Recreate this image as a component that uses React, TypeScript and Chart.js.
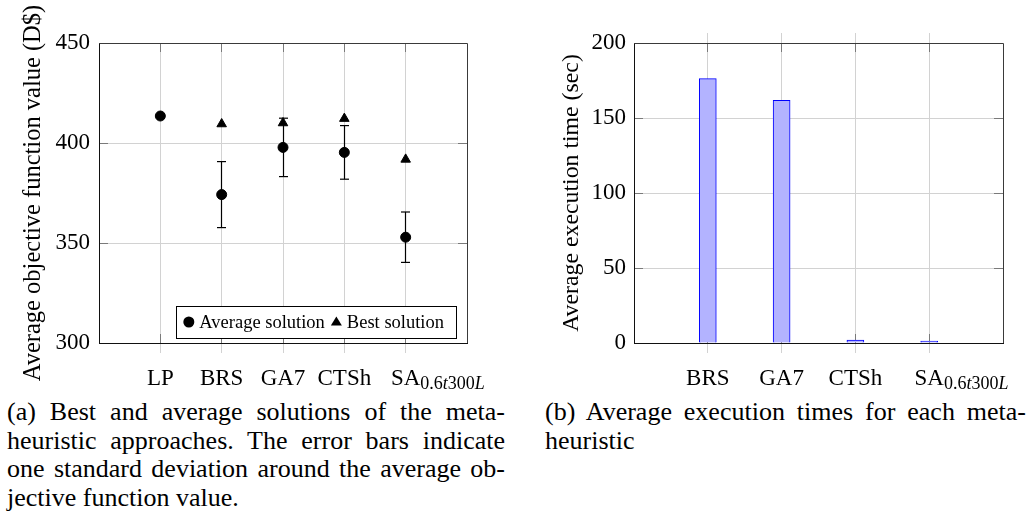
import React, { useEffect, useRef } from 'react';
import { Chart, registerables } from 'chart.js';

Chart.register(...registerables);

// ---------- data ----------
const methodsA = ['LP', 'BRS', 'GA7', 'CTSh', 'SA_0.6t300L'];
const avgSolution = [413.5, 374.2, 397.8, 395.3, 352.9];
const stdSolution = [0, 16.5, 14.6, 13.4, 12.6];
const bestSolution: (number | null)[] = [null, 409.5, 410.0, 412.2, 391.8];
const yTicksA = [300, 350, 400, 450];

const methodsB = ['BRS', 'GA7', 'CTSh', 'SA_0.6t300L'];
const execTime = [176.2, 161.8, 2.0, 1.3];
const yTicksB = [0, 50, 100, 150, 200];

const captionA = [
  '(a) Best and average solutions of the meta-',
  'heuristic approaches. The error bars indicate',
  'one standard deviation around the average ob-',
  'jective function value.',
];
const captionB = ['(b) Average execution times for each meta-', 'heuristic'];

// ---------- style ----------
const FONT = '"Liberation Serif", "Times New Roman", serif';
const GRID = '#d2d2d2';
const TICK = '#7a7a7a';

Chart.defaults.font.family = FONT;
Chart.defaults.color = '#000';

const align = (p: number) => Math.round(p - 0.5) + 0.5;

function line(ctx: CanvasRenderingContext2D, x1: number, y1: number, x2: number, y2: number) {
  ctx.beginPath();
  ctx.moveTo(x1, y1);
  ctx.lineTo(x2, y2);
  ctx.stroke();
}

function drawCatLabel(ctx: CanvasRenderingContext2D, label: string, x: number, y: number) {
  const [main, sub] = label.split('_');
  ctx.font = `23px ${FONT}`;
  ctx.textBaseline = 'alphabetic';
  ctx.fillStyle = '#000';
  const w = ctx.measureText(main).width;
  ctx.textAlign = 'left';
  ctx.fillText(main, x - w / 2, y);
  if (sub) {
    let cx = x + w / 2;
    for (const ch of sub) {
      const italic = /[A-Za-z]/.test(ch);
      ctx.font = `${italic ? 'italic ' : ''}18px ${FONT}`;
      ctx.fillText(ch, cx, y + 4);
      cx += ctx.measureText(ch).width;
    }
  }
}

const pgfAxisPlugin = {
  id: 'pgfAxis',
  beforeDatasetsDraw(chart: any, _a: any, opts: any) {
    const { ctx, chartArea: a } = chart;
    const xs = chart.scales.x;
    const ys = chart.scales.y;
    ctx.save();
    ctx.lineWidth = 1;
    if (opts.topExtend) {
      ctx.strokeStyle = GRID;
      xs.ticks.forEach((t: any) => {
        const px = align(xs.getPixelForValue(t.value));
        line(ctx, px, a.top - opts.topExtend, px, a.top);
      });
    }
    ctx.strokeStyle = TICK;
    const L = 9;
    xs.ticks.forEach((t: any) => {
      const px = align(xs.getPixelForValue(t.value));
      line(ctx, px, a.bottom, px, a.bottom - L);
      line(ctx, px, a.top, px, a.top + L);
    });
    ys.ticks.forEach((t: any) => {
      const py = align(ys.getPixelForValue(t.value));
      line(ctx, a.left, py, a.left + L, py);
      line(ctx, a.right - L, py, a.right, py);
    });
    ctx.restore();
  },
  afterDatasetsDraw(chart: any) {
    const { ctx, chartArea: a } = chart;
    ctx.save();
    ctx.lineWidth = 1;
    const l = align(a.left), r = align(a.right), t = align(a.top), b = align(a.bottom);
    ctx.strokeStyle = '#3a3a3a';
    line(ctx, l, t, r, t);
    line(ctx, r, t, r, b);
    ctx.strokeStyle = '#111';
    line(ctx, l, t, l, b);
    line(ctx, l - 0.5, b, r + 0.5, b);
    ctx.restore();
  },
  afterDraw(chart: any, _a: any, opts: any) {
    const { ctx, chartArea: a } = chart;
    const xs = chart.scales.x;
    ctx.save();
    (opts.labels as string[]).forEach((lab, i) => {
      const t = xs.ticks[i];
      if (!t) return;
      drawCatLabel(ctx, lab, xs.getPixelForValue(t.value), a.bottom + 42);
    });
    ctx.restore();
  },
};

const errorBarPlugin = {
  id: 'errorBars',
  afterDatasetsDraw(chart: any) {
    const { ctx } = chart;
    const xs = chart.scales.x;
    const ys = chart.scales.y;
    ctx.save();
    ctx.strokeStyle = '#000';
    ctx.lineWidth = 1.2;
    avgSolution.forEach((m, i) => {
      const s = stdSolution[i];
      if (!s) return;
      const x = align(xs.getPixelForValue(i + 1));
      const yt = ys.getPixelForValue(m + s);
      const yb = ys.getPixelForValue(m - s);
      line(ctx, x, yt, x, yb);
      line(ctx, x - 4.5, yt, x + 4.5, yt);
      line(ctx, x - 4.5, yb, x + 4.5, yb);
    });
    ctx.restore();
  },
};

const legendPlugin = {
  id: 'innerLegend',
  afterDraw(chart: any) {
    const { ctx, chartArea: a } = chart;
    ctx.save();
    ctx.font = `18.5px ${FONT}`;
    const t1 = 'Average solution';
    const t2 = 'Best solution';
    const w1 = ctx.measureText(t1).width;
    const w2 = ctx.measureText(t2).width;
    const padL = 7, sym = 11, gap = 5, itemGap = 6, padR = 12;
    const boxW = padL + sym + gap + w1 + itemGap + sym + gap + w2 + padR;
    const boxH = 32;
    const right = a.right - 11;
    const bottom = a.bottom - 5;
    const left = right - boxW;
    const top = bottom - boxH;
    ctx.fillStyle = '#fff';
    ctx.fillRect(left, top, boxW, boxH);
    ctx.strokeStyle = '#000';
    ctx.lineWidth = 1;
    ctx.strokeRect(align(left), align(top), Math.round(boxW), Math.round(boxH));
    const cy = top + boxH / 2;
    let x = left + padL;
    ctx.fillStyle = '#000';
    ctx.beginPath();
    ctx.arc(x + sym / 2, cy, 5.5, 0, Math.PI * 2);
    ctx.fill();
    x += sym + gap;
    ctx.textBaseline = 'middle';
    ctx.textAlign = 'left';
    ctx.fillText(t1, x, cy + 1);
    x += w1 + itemGap;
    ctx.beginPath();
    ctx.moveTo(x + sym / 2, cy - 5.5);
    ctx.lineTo(x + sym, cy + 3.5);
    ctx.lineTo(x, cy + 3.5);
    ctx.closePath();
    ctx.fill();
    x += sym + gap;
    ctx.fillText(t2, x, cy + 1);
    ctx.restore();
  },
};

function ChartA() {
  const ref = useRef<HTMLCanvasElement>(null);
  useEffect(() => {
    if (!ref.current) return;
    const chart = new Chart(ref.current, {
      type: 'scatter',
      data: {
        datasets: [
          {
            label: 'Average solution',
            data: avgSolution.map((v, i) => ({ x: i + 1, y: v })),
            pointStyle: 'circle',
            pointRadius: 5,
            pointBorderWidth: 1,
            backgroundColor: '#000',
            borderColor: '#000',
          },
          {
            label: 'Best solution',
            data: bestSolution
              .map((v, i) => (v === null ? null : { x: i + 1, y: v }))
              .filter((p) => p !== null) as any,
            pointStyle: 'triangle',
            pointRadius: 5.5,
            pointBorderWidth: 1,
            backgroundColor: '#000',
            borderColor: '#000',
          },
        ],
      },
      options: {
        responsive: false,
        devicePixelRatio: 1,
        animation: false,
        events: [],
        layout: { padding: { top: 43, right: 53, left: 0, bottom: 0 } },
        plugins: {
          legend: { display: false },
          tooltip: { enabled: false },
          pgfAxis: { labels: methodsA, topExtend: 0 },
        } as any,
        scales: {
          x: {
            type: 'linear',
            min: 0,
            max: methodsA.length + 1,
            afterBuildTicks: (s: any) => {
              s.ticks = methodsA.map((_, i) => ({ value: i + 1 }));
            },
            ticks: { callback: () => '', autoSkip: false },
            grid: { color: GRID, tickLength: 10, drawTicks: true },
            border: { display: false },
            afterFit: (s: any) => {
              s.height = 52;
            },
          },
          y: {
            type: 'linear',
            min: yTicksA[0],
            max: yTicksA[yTicksA.length - 1],
            afterBuildTicks: (s: any) => {
              s.ticks = yTicksA.map((v) => ({ value: v }));
            },
            ticks: { color: '#000', font: { size: 23, family: FONT }, padding: 9 },
            grid: { color: GRID, drawTicks: false },
            border: { display: false },
            title: {
              display: true,
              text: 'Average objective function value (D$)',
              color: '#000',
              font: { size: 24.5, family: FONT },
              padding: { top: 19, bottom: 0 },
            },
            afterFit: (s: any) => {
              s.width = 99;
            },
          },
        },
      } as any,
      plugins: [pgfAxisPlugin, errorBarPlugin, legendPlugin],
    });
    return () => chart.destroy();
  }, []);
  return (
    <canvas
      ref={ref}
      width={520}
      height={395}
      style={{ position: 'absolute', left: 0, top: 0, width: 520, height: 395 }}
    />
  );
}

function ChartB() {
  const ref = useRef<HTMLCanvasElement>(null);
  useEffect(() => {
    if (!ref.current) return;
    const chart = new Chart(ref.current, {
      type: 'bar',
      data: {
        datasets: [
          {
            label: 'Average execution time',
            data: execTime.map((v, i) => ({ x: i + 1, y: v })) as any,
            backgroundColor: '#b3b3ff',
            borderColor: '#0000ff',
            borderWidth: 1,
            barThickness: 17,
          },
        ],
      },
      options: {
        responsive: false,
        devicePixelRatio: 1,
        animation: false,
        events: [],
        layout: { padding: { top: 43, right: 28, left: 0, bottom: 0 } },
        plugins: {
          legend: { display: false },
          tooltip: { enabled: false },
          pgfAxis: { labels: methodsB, topExtend: 10 },
        } as any,
        scales: {
          x: {
            type: 'linear',
            offset: false,
            min: 0,
            max: methodsB.length + 1,
            afterBuildTicks: (s: any) => {
              s.ticks = methodsB.map((_, i) => ({ value: i + 1 }));
            },
            ticks: { callback: () => '', autoSkip: false },
            grid: { color: GRID, tickLength: 10, drawTicks: true, offset: false },
            border: { display: false },
            afterFit: (s: any) => {
              s.height = 52;
            },
          },
          y: {
            type: 'linear',
            min: yTicksB[0],
            max: yTicksB[yTicksB.length - 1],
            afterBuildTicks: (s: any) => {
              s.ticks = yTicksB.map((v) => ({ value: v }));
            },
            ticks: { color: '#000', font: { size: 23, family: FONT }, padding: 8 },
            grid: { color: GRID, drawTicks: false },
            border: { display: false },
            title: {
              display: true,
              text: 'Average execution time (sec)',
              color: '#000',
              font: { size: 23.8, family: FONT },
              padding: { top: 37, bottom: 0 },
            },
            afterFit: (s: any) => {
              s.width = 114;
            },
          },
        },
      } as any,
      plugins: [pgfAxisPlugin],
    });
    return () => chart.destroy();
  }, []);
  return (
    <canvas
      ref={ref}
      width={511}
      height={395}
      style={{ position: 'absolute', left: 520, top: 0, width: 511, height: 395 }}
    />
  );
}

function Caption({ lines, left, width }: { lines: string[]; left: number; width: number }) {
  return (
    <div
      style={{
        position: 'absolute',
        left,
        top: 398,
        width,
        fontFamily: FONT,
        fontSize: 26,
        lineHeight: '28.5px',
        color: '#000',
      }}
    >
      {lines.map((ln, i) => {
        const last = i === lines.length - 1;
        return (
          <div
            key={i}
            style={{
              whiteSpace: 'nowrap',
              textAlign: last ? 'left' : 'justify',
              textAlignLast: last ? 'left' : 'justify',
            } as any}
          >
            {ln}
          </div>
        );
      })}
    </div>
  );
}

export default function App() {
  return (
    <div
      style={{
        position: 'absolute',
        left: 0,
        top: 0,
        width: 1031,
        height: 512,
        background: '#fff',
        overflow: 'hidden',
      }}
    >
      <ChartA />
      <ChartB />
      <Caption lines={captionA} left={7} width={498} />
      <Caption lines={captionB} left={545} width={481} />
    </div>
  );
}
